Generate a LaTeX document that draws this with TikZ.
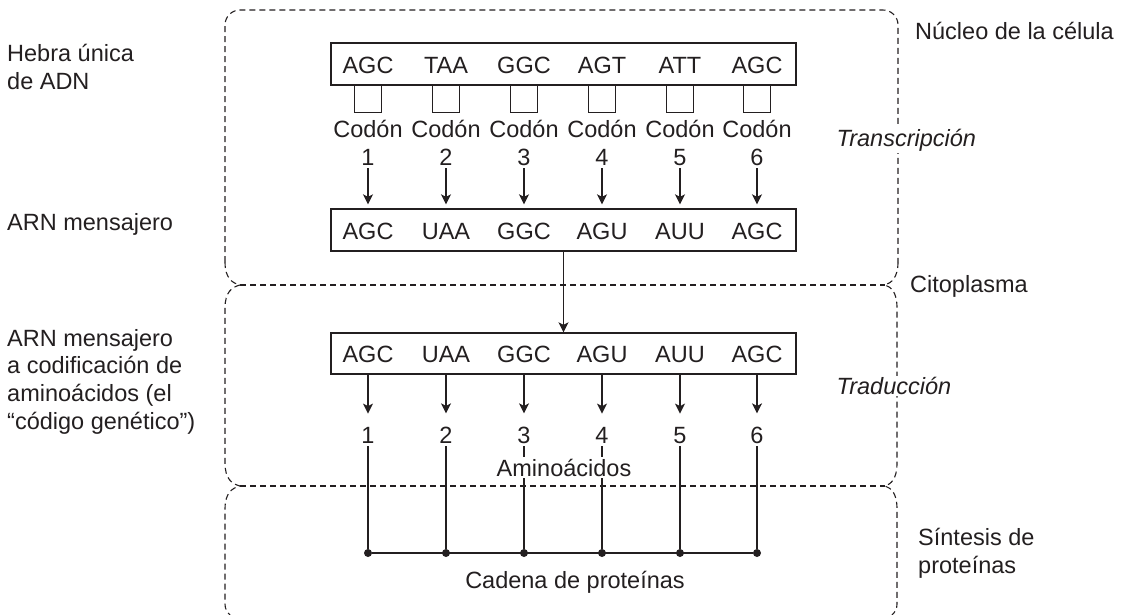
\documentclass[tikz,border=0pt]{standalone}
\usepackage{fontspec}
\setmainfont{Liberation Sans}
\usetikzlibrary{arrows.meta}
\definecolor{ink}{RGB}{35,31,32}
\begin{document}
\begin{tikzpicture}[x=1pt,y=-1pt,
  every node/.style={text=ink, font=\fontsize{23.5}{27.6}\selectfont},
  lbl/.style={inner sep=0pt, anchor=base},
  side/.style={inner sep=0pt, anchor=north west, align=left},
  phase/.style={inner sep=1.5pt, anchor=west, fill=white, font=\fontsize{23.5}{27.6}\selectfont\itshape},
  seqbox/.style={draw=ink, line width=1.4pt, minimum width=465pt, inner sep=0pt},
  codbox/.style={draw=ink, line width=1.2pt, minimum width=27pt, minimum height=27pt, inner sep=0pt},
  frame/.style={draw=ink, line width=1.1pt, dash pattern=on 6pt off 4pt},
  arr/.style={draw=ink, line width=1.3pt, -{Stealth[length=10pt,width=10pt,inset=2.5pt]}},
  chain/.style={draw=ink, line width=1.1pt},
  dot/.style={circle, fill=ink, inner sep=0pt, minimum size=8pt}
]
\useasboundingbox (0,0) rectangle (1129,614);

% ---- compartment outlines (dashed) ----
\coordinate (jl1) at (240,285);
\coordinate (jr1) at (885,285);
\coordinate (jl2) at (240,486);
\coordinate (jr2) at (885,486);
% nucleus
\draw[frame, rounded corners=15pt] (225,262) -- (225,10) -- (898,10) -- (898,262);
\draw[frame] (225,262) .. controls (225,278) and (232,283) .. (jl1)
             .. controls (232,287) and (225,292) .. (225,308) -- (225,463)
             .. controls (225,479) and (232,484) .. (jl2)
             .. controls (232,488) and (225,493) .. (225,509) -- (225,604)
             .. controls (225,609) and (227,612) .. (230,615);
\draw[frame] (898,262) .. controls (898,278) and (891,283) .. (jr1)
             .. controls (891,287) and (897,292) .. (897,308) -- (897,463)
             .. controls (897,479) and (891,484) .. (jr2)
             .. controls (891,488) and (897,493) .. (897,509) -- (897,604)
             .. controls (897,609) and (895,612) .. (892,615);
\draw[frame] (jl1) -- (jr1);
\draw[frame] (jl2) -- (jr2);

% ---- sequence boxes ----
\node[seqbox, minimum height=42pt] (dna)  at (563.5,64)  {};
\node[seqbox, minimum height=42pt] (mrna) at (563.5,230) {};
\node[seqbox, minimum height=41pt] (mrnb) at (563.5,353.5) {};

\foreach \i/\x/\d/\r/\w in {1/368/AGC/AGC/1.7, 2/446/TAA/UAA/1.1, 3/524/GGC/GGC/1.1,
                           4/602/AGT/AGU/1.1, 5/680/ATT/AUU/1.1, 6/757/AGC/AGC/1.1}{
  \node[lbl] (dn\i) at (\x,73.5) {\d};
  \node[codbox, anchor=north] (sq\i) at (\x,85) {};
  \node[lbl] (cod\i) at (\x,137) {Codón};
  \node[lbl] (n\i) at (\x,165) {\i};
  \node[lbl] (ra\i) at (\x,239) {\r};
  \node[lbl] (rb\i) at (\x,362) {\r};
  \node[lbl] (a\i) at (\x,443) {\i};
  \node[dot] (d\i) at (\x,553) {};
  \draw[arr, shorten <=3pt, shorten >=4pt] (n\i) -- (n\i |- mrna.north);
  \draw[arr, shorten >=13pt] (rb\i |- mrnb.south) -- (a\i);
  \draw[chain, line width=\w pt, shorten <=3pt] (a\i) -- (d\i);
}

% mRNA leaves the nucleus
\draw[arr] (mrna.south) -- (mrnb.north);

% protein chain
\draw[chain] (d1) -- (d6);
\node[lbl, fill=white, inner sep=2pt] (amino) at (564,476) {Aminoácidos};
\node[lbl] (cadena) at (575,588) {Cadena de proteínas};

% ---- process labels ----
\node[phase] (transc) at (835,140) {Transcripción};
\node[phase] (traduc) at (835,386) {Traducción};

% ---- compartment labels ----
\node[side] (nucleo) at (915,22) {Núcleo de la célula};
\node[side] (cito) at (910,275) {Citoplasma};
\node[side] (sintesis) at (918,528) {Síntesis de\\proteínas};

% ---- row labels ----
\node[side] (hebra) at (7,44) {Hebra única\\de ADN};
\node[side] (arnm) at (7,213) {ARN mensajero};
\node[side] (codif) at (7,329) {ARN mensajero\\a codificación de\\aminoácidos (el\\“código genético”)};
\end{tikzpicture}
\end{document}
